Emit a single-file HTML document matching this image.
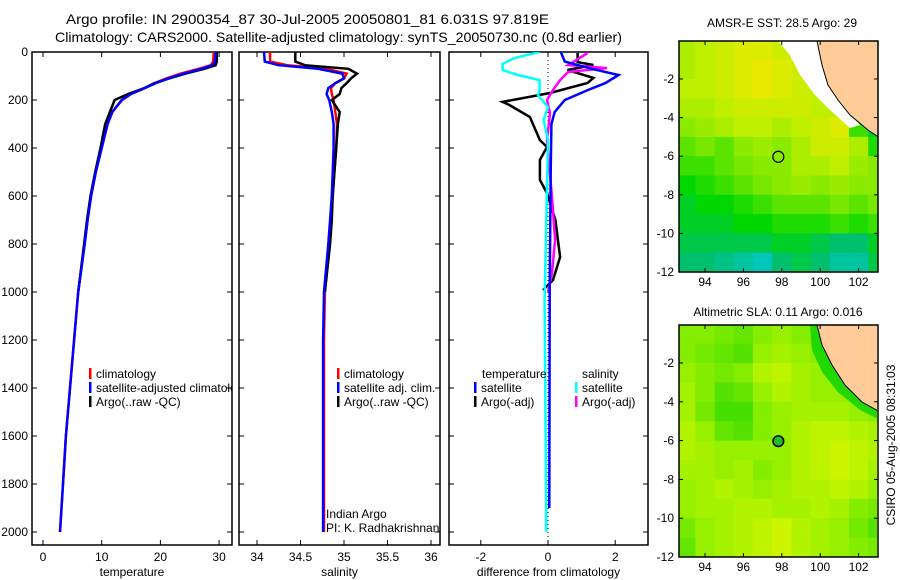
<!DOCTYPE html>
<html><head><meta charset="utf-8"><style>
html,body{margin:0;padding:0;background:#fff}
svg{display:block;font-family:"Liberation Sans",sans-serif}
text{font-size:12px;fill:#000}
</style></head><body>
<svg id="c" width="900" height="580" viewBox="0 0 900 580" xmlns="http://www.w3.org/2000/svg">
<defs>
<clipPath id="cp1"><rect x="32" y="52" width="200" height="493"/></clipPath>
<clipPath id="cp2"><rect x="239" y="52" width="201" height="493"/></clipPath>
<clipPath id="cp3"><rect x="449" y="52" width="199" height="493"/></clipPath>
<clipPath id="cm1"><rect x="679" y="41" width="199" height="231"/></clipPath>
<clipPath id="cm2"><rect x="679" y="325" width="198" height="232"/></clipPath>
</defs>
<text x="66" y="24" textLength="483" lengthAdjust="spacingAndGlyphs" style="font-size:14px">Argo profile: IN 2900354_87 30-Jul-2005 20050801_81 6.031S 97.819E</text>
<text x="55" y="42" textLength="567" lengthAdjust="spacingAndGlyphs" style="font-size:14px">Climatology: CARS2000. Satellite-adjusted climatology: synTS_20050730.nc (0.8d earlier)</text>
<g id="g"></g>
<text x="782" y="27" text-anchor="middle">AMSR-E SST: 28.5 Argo: 29</text>
<text x="778" y="316" text-anchor="middle">Altimetric SLA: 0.11 Argo: 0.016</text>
<text transform="translate(895,445) rotate(-90)" text-anchor="middle">CSIRO 05-Aug-2005 08:31:03</text>
</svg>
<script>
// ---- data ----
const tDepth=[0,40,55,70,90,110,130,150,175,200,250,300,400,500,600,700,800,1000,1200,1400,1600,1800,2000];
const tClim=[29.1,29.0,28.6,26.5,23.5,21,19,17.3,15,13.5,11.8,11,10,9,8.2,7.6,7.1,6,5.3,4.6,3.9,3.4,2.9];
const tSat=[29.4,29.3,28.9,27,24,21.3,19.2,17.4,15,13.4,11.8,11,10,9,8.2,7.6,7.1,6,5.3,4.6,3.9,3.4,2.9];
const tArgoDepth=[0,40,55,70,90,110,130,150,175,200,250,300,400,500,600,700,800,1000];
const tArgo=[29.6,29.6,29.4,27.5,24.3,21.5,19,17.3,14.5,12.2,11.4,10.6,9.8,8.9,8.1,7.5,7.0,6.0];
const sDepth=tDepth;
const sClim=[34.15,34.15,34.35,34.8,35.03,35.0,34.9,34.85,34.86,34.88,34.9,34.92,34.91,34.89,34.87,34.85,34.83,34.78,34.77,34.77,34.77,34.77,34.77];
const sSat=[34.08,34.09,34.25,34.7,34.98,35.0,34.9,34.82,34.8,34.83,34.86,34.88,34.88,34.87,34.86,34.84,34.82,34.77,34.76,34.76,34.76,34.76,34.76];
const sArgo=[34.44,34.44,34.55,35.05,35.15,35.08,35.03,34.97,34.95,34.86,34.95,34.93,34.91,34.89,34.87,34.86,34.84,34.78];
const dBlueDepth=[0,40,70,96,130,158,200,250,300,500,1000,1900];
const dBlue=[0.38,0.5,1.3,2.1,1.7,1.2,0.5,0.2,0.1,0.08,0.05,0.04];
const dCyanDepth=[0,25,50,75,96,117,158,179,229,283,367,1033,2000];
const dCyan=[-0.25,-1.0,-1.35,-1.35,-0.9,-0.25,-0.25,-0.3,0,-0.13,0,-0.1,-0.05];
const dBlackDepth=[4,42,54,75,108,129,171,208,221,271,367,396,450,533,588,700,854,950,992];
const dBlack=[0.88,0.88,1.35,0.58,1.35,1.18,0.06,-1.35,-1.15,-0.54,-0.24,-0.03,-0.24,-0.24,-0.03,0.22,0.36,0.15,-0.15];
const dMagDepth=[4,54,67,83,117,158,200,254,367,604,783,921,1000];
const dMag=[1.18,0.6,1.75,0.6,0.36,0.15,-0.03,0.06,-0.03,0.12,0.21,0.12,0.0];
const tempTicks=[0,10,20,30];
const salTicks=[34,34.5,35,35.5,36];
const diffTicks=[-2,0,2];
const depthTicks=[0,200,400,600,800,1000,1200,1400,1600,1800,2000];
const lonTicks=[94,96,98,100,102];
const latTicks=[-2,-4,-6,-8,-10,-12];
const sstGrid=[
[28.8,28.9,29.0,29.1,29.1,29.0,null,null,null,null,null],
[28.8,28.9,29.0,29.1,29.2,29.1,29.0,null,null,null,null],
[28.9,28.9,29.0,29.1,29.2,29.1,29.0,29.0,null,null,null],
[28.8,28.8,28.9,29.0,29.0,29.0,29.0,28.9,28.9,28.2,null],
[28.6,28.7,28.8,28.9,28.9,28.8,28.9,29.0,29.1,28.3,28.0],
[28.4,28.5,28.4,28.6,28.7,28.6,28.8,29.0,29.0,28.8,28.2],
[28.3,28.3,28.4,28.5,28.6,28.6,28.8,28.8,28.9,28.7,28.6],
[28.1,28.2,28.3,28.4,28.5,28.6,28.7,28.6,28.7,28.6,28.6],
[28.0,28.1,28.1,28.2,28.3,28.4,28.4,28.4,28.5,28.4,28.5],
[28.0,28.0,28.0,28.1,28.1,28.2,28.2,28.2,28.3,28.2,28.3],
[27.9,27.9,27.9,27.9,27.9,28.0,28.0,27.9,27.8,27.8,28.0],
[27.8,27.8,27.7,27.6,27.5,27.8,27.9,27.8,27.6,27.6,27.9]];
const slaGrid=[
[0.11,0.12,0.11,0.11,0.12,0.11,0.10,0.09,0.06,0.05,0.05],
[0.11,0.11,0.10,0.09,0.11,0.12,0.11,0.10,0.07,0.05,0.05],
[0.11,0.10,0.09,0.08,0.12,0.13,0.12,0.11,0.08,0.06,0.05],
[0.12,0.11,0.10,0.11,0.14,0.15,0.13,0.12,0.10,0.08,0.06],
[0.13,0.11,0.08,0.09,0.12,0.14,0.13,0.12,0.12,0.10,0.08],
[0.13,0.10,0.07,0.07,0.11,0.12,0.13,0.13,0.13,0.12,0.11],
[0.14,0.12,0.09,0.08,0.11,0.12,0.14,0.15,0.15,0.14,0.13],
[0.14,0.13,0.12,0.12,0.12,0.12,0.14,0.15,0.16,0.15,0.14],
[0.13,0.13,0.12,0.13,0.11,0.12,0.14,0.15,0.16,0.15,0.13],
[0.12,0.13,0.14,0.13,0.12,0.13,0.14,0.14,0.15,0.14,0.12],
[0.12,0.13,0.13,0.14,0.14,0.13,0.13,0.14,0.13,0.11,0.10],
[0.10,0.12,0.13,0.14,0.15,0.16,0.14,0.13,0.12,0.10,0.08],
[0.09,0.12,0.13,0.14,0.15,0.16,0.14,0.13,0.12,0.11,0.10]];
// ---- scales ----
const yD=d=>52+d*0.24;
const xT=v=>43+v*5.87;
const xS=v=>257+(v-34)*87;
const xD=v=>548+v*33.6;
const lonX=l=>705+(l-94)*19.2;
const latY1=l=>79+(-2-l)*19.3;
const latY2=l=>363+(-2-l)*19.4;
const NS='http://www.w3.org/2000/svg';
const G=document.getElementById('g');
function mk(t,a,p){const e=document.createElementNS(NS,t);for(const k in a)e.setAttribute(k,a[k]);(p||G).appendChild(e);return e;}
function txt(x,y,s,anchor,p){const e=mk('text',{x:x,y:y,'text-anchor':anchor||'start'},p);e.textContent=s;return e;}
function line(xs,ds,xf,col,w,clip,name){
  const pts=ds.map((d,i)=>xf(xs[i]).toFixed(1)+','+yD(d).toFixed(1)).join(' ');
  const e=mk('polyline',{points:pts,fill:'none',stroke:col,'stroke-width':w,'clip-path':'url(#'+clip+')'});
  
  
}
function panel(x0,x1,ticks,xf,fmt,title,name,ylabels){
  const g=mk('g',{});
  
  
  mk('rect',{x:x0,y:52,width:x1-x0,height:493,fill:'none',stroke:'#000','stroke-width':1.5},g);
  ticks.forEach(t=>{const x=xf(t);mk('line',{x1:x,x2:x,y1:52,y2:57,stroke:'#000'},g);mk('line',{x1:x,x2:x,y1:545,y2:540,stroke:'#000'},g);
    const l=txt(x,561,fmt(t),'middle',g);});
  depthTicks.forEach(d=>{const y=yD(d);mk('line',{x1:x0,x2:x0+5,y1:y,y2:y,stroke:'#000'},g);mk('line',{x1:x1,x2:x1-5,y1:y,y2:y,stroke:'#000'},g);
    if(ylabels){const l=txt(28,y+4,String(d),'end',g);}});
  const t=txt((x0+x1)/2,576,title,'middle',g);
}
panel(32,232,tempTicks,xT,String,'temperature','temperature-panel',true);
panel(239,440,salTicks,xS,String,'salinity','salinity-panel',false);
panel(449,648,diffTicks,xD,String,'difference from climatology','difference-panel',false);
mk('line',{x1:xD(0),x2:xD(0),y1:52,y2:545,stroke:'#000','stroke-dasharray':'1,3'});
line(tClim,tDepth,xT,'#f00',2.5,'cp1','temp-climatology-line');
line(tArgo,tArgoDepth,xT,'#000',2.5,'cp1','temp-argo-line');
line(tSat,tDepth,xT,'#00f',2.5,'cp1','temp-satellite-line');
line(sClim,sDepth,xS,'#f00',2.5,'cp2','sal-climatology-line');
line(sArgo,tArgoDepth,xS,'#000',2.5,'cp2','sal-argo-line');
line(sSat,sDepth,xS,'#00f',2.5,'cp2','sal-satellite-line');
line(dBlack,dBlackDepth,xD,'#000',2.5,'cp3','diff-temp-argo-line');
line(dMag,dMagDepth,xD,'#f0f',2.5,'cp3','diff-sal-argo-line');
line(dBlue,dBlueDepth,xD,'#00f',2.5,'cp3','diff-temp-satellite-line');
line(dCyan,dCyanDepth,xD,'#0ff',2.5,'cp3','diff-sal-satellite-line');
function leg(bx,y,col,s,clip){mk('rect',{x:bx,y:y-10,width:2.5,height:11,fill:col});const t=txt(bx+7,y,s,'start');
  if(clip)t.setAttribute('clip-path','url(#'+clip+')');
  
  }
leg(89,378,'#f00','climatology');leg(89,392,'#00f','satellite-adjusted climatology','cp1');leg(89,406,'#000','Argo(..raw -QC)');
leg(337,378,'#f00','climatology');leg(337,392,'#00f','satellite adj. clim.');leg(337,406,'#000','Argo(..raw -QC)');
txt(482,378,'temperature');txt(582,378,'salinity');
leg(474,392,'#00f','satellite');leg(474,406,'#000','Argo(-adj)');
leg(575,392,'#0ff','satellite');leg(575,406,'#f0f','Argo(-adj)');
txt(326,518,'Indian Argo');txt(326,532,'PI: K. Radhakrishnan');
// ---- maps ----
function ramp(stops,v){if(v<=stops[0][0])return 'rgb('+stops[0][1].join(',')+')';for(let i=1;i<stops.length;i++){if(v<=stops[i][0]){const a=stops[i-1],b=stops[i],f=(v-a[0])/(b[0]-a[0]);
  const ca=a[1],cb=b[1];return 'rgb('+ca.map((c,k)=>Math.round(c+(cb[k]-c)*f)).join(',')+')';}}return 'rgb('+stops[stops.length-1][1].join(',')+')';}
const sstStops=[[27.4,[0,200,210]],[27.8,[0,192,110]],[28.1,[0,215,0]],[28.5,[120,232,0]],[28.9,[190,240,0]],[29.2,[235,232,0]],[29.5,[255,180,0]]];
const slaStops=[[0.05,[40,215,0]],[0.09,[100,230,0]],[0.12,[150,240,0]],[0.16,[205,245,0]]];
function map(grid,stops,latTop,latY,clip,y0,y1,name,land,white,coast){
  const g=mk('g',{'clip-path':'url(#'+clip+')'});
  
  
  grid.forEach((row,j)=>row.forEach((v,i)=>{
    const xa=lonX(92.5+i),xb=lonX(93.5+i),ya=latY(latTop-j),yb=latY(latTop-j-1);
    const c=mk('rect',{x:xa,y:ya,width:xb-xa+0.5,height:yb-ya+0.5,fill:v===null?'#fff':ramp(stops,v)},g);
    
  }));
  if(white)mk('polygon',{points:white,fill:'#fff'},g);
  if(coast)mk('polygon',{points:coast,fill:'#22d800'},g);
  mk('polygon',{points:land,fill:'#fc9',stroke:'#000','stroke-width':1},g);
  mk('circle',{cx:lonX(97.82),cy:latY(-6.03),r:5.5,fill:'none',stroke:'#000','stroke-width':1.2},g);
  mk('rect',{x:679,y:y0,width:199,height:y1-y0,fill:'none',stroke:'#000','stroke-width':1.5});
  lonTicks.forEach(l=>{const x=lonX(l);mk('line',{x1:x,x2:x,y1:y0,y2:y0+4,stroke:'#000'});mk('line',{x1:x,x2:x,y1:y1,y2:y1-4,stroke:'#000'});
    txt(x,y1+14,String(l),'middle');});
  latTicks.forEach(l=>{const y=latY(l);mk('line',{x1:679,x2:683,y1:y,y2:y,stroke:'#000'});mk('line',{x1:878,x2:874,y1:y,y2:y,stroke:'#000'});
    txt(674,y+4,String(l),'end');});
}
map(sstGrid,sstStops,0,latY1,'cm1',41,272,'sst-map',
 '817,41,880,41,880,138,868,130,850,115,838,100,828,85,822,65',
 '778,41,817,41,822,65,838,100,860,125,850,128,830,110,815,95,800,75,790,55',null);
map(slaGrid,slaStops,1,latY2,'cm2',325,557,'sla-map',
 '817,325,880,325,880,412,862,402,845,385,832,365,822,345',null,
 '810,325,817,325,822,345,832,365,845,385,862,402,880,412,880,420,860,410,838,392,822,372,812,350');
mk('circle',{cx:lonX(97.82),cy:latY2(-6.03),r:5,fill:'#20c020',stroke:'#000'});
</script>
</body></html>
